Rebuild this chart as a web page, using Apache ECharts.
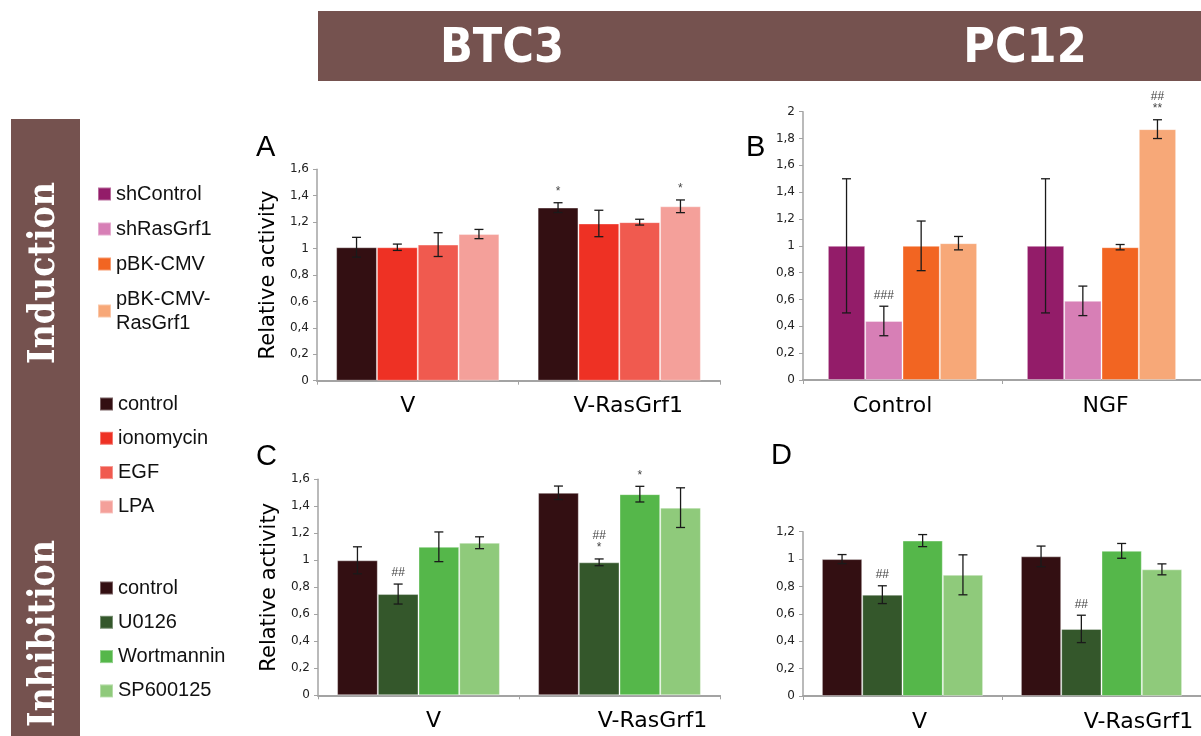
<!DOCTYPE html>
<html><head><meta charset="utf-8">
<script src="https://cdn.jsdelivr.net/npm/echarts@6/dist/echarts.min.js"></script>
<style>html,body{margin:0;padding:0;background:#fff}#c{width:1201px;height:736px}</style>
</head><body><div id="c"></div>
<script>
// ---------- data ----------
const catsBTC = ['V', 'V-RasGrf1'];
const catsPC = ['Control', 'NGF'];

const namesA = ['control', 'ionomycin', 'EGF', 'LPA'];
const namesB = ['shControl', 'shRasGrf1', 'pBK-CMV', 'pBK-CMV-RasGrf1'];
const namesCD = ['control', 'U0126', 'Wortmannin', 'SP600125'];

// values per series: [first category, second category]
const valA = [[1.01, 1.31], [1.01, 1.19], [1.03, 1.20], [1.11, 1.32]];
const errA = [[0.075, 0.037], [0.024, 0.10], [0.09, 0.022], [0.035, 0.048]];
const sigA = [['', '*'], ['', ''], ['', ''], ['', '*']];

const valB = [[1.0, 1.0], [0.44, 0.59], [1.0, 0.99], [1.02, 1.87]];
const errB = [[0.5, 0.5], [0.11, 0.11], [0.185, 0.02], [0.05, 0.07]];
const sigB = [['', ''], ['###', ''], ['', ''], ['', '##\n**']];

const valC = [[1.0, 1.50], [0.75, 0.985], [1.10, 1.49], [1.13, 1.39]];
const errC = [[0.10, 0.05], [0.074, 0.025], [0.11, 0.058], [0.044, 0.147]];
const sigC = [['', ''], ['##', '##\n*'], ['', '*'], ['', '']];

const valD = [[1.0, 1.02], [0.74, 0.49], [1.135, 1.06], [0.885, 0.925]];
const errD = [[0.033, 0.075], [0.065, 0.10], [0.044, 0.054], [0.146, 0.04]];
const sigD = [['', ''], ['##', '##'], ['', ''], ['', '']];

const yMaxes = [1.6, 2, 1.6, 1.2];
const yStep = 0.2;

const colA = ['#330f12', '#ee3124', '#f05a4f', '#f4a09a'];
const colB = ['#931c69', '#d77fb6', '#f26522', '#f7a878'];
const colCD = ['#330f12', '#34572b', '#55b74a', '#8fca7b'];

// ---------- layout ----------
const grids = [
  { left: 317, top: 169.3, width: 403, height: 211.4 },
  { left: 803, top: 111.7, width: 398, height: 268.3 },
  { left: 318, top: 479.3, width: 402, height: 216 },
  { left: 803, top: 531.7, width: 398, height: 164.3 }
];
const gaps = [0.19, 0.25, 0.19, 0.19];
const labelShift = [[-10, 9], [-10, 4], [15, 33], [17, 37]];

const panels = [
  { cats: catsBTC, names: namesA, val: valA, err: errA, sig: sigA, col: colA, yName: 'Relative activity' },
  { cats: catsPC, names: namesB, val: valB, err: errB, sig: sigB, col: colB, yName: '' },
  { cats: catsBTC, names: namesCD, val: valC, err: errC, sig: sigC, col: colCD, yName: 'Relative activity' },
  { cats: catsBTC, names: namesCD, val: valD, err: errD, sig: sigD, col: colCD, yName: '' }
];

const fmt = v => String(+v.toFixed(1)).replace('.', ',');
const axisGray = '#a3a3a3';

const xAxes = [], yAxes = [], series = [];
panels.forEach((p, pi) => {
  xAxes.push({
    gridIndex: pi, type: 'category',
    data: p.cats.map((c, ci) => {
      const s = labelShift[pi][ci];
      return { value: c, textStyle: { padding: s >= 0 ? [0, 0, 0, 2 * s] : [0, -2 * s, 0, 0] } };
    }),
    axisLine: { show: true, lineStyle: { color: axisGray, width: 2 } },
    axisTick: { show: true, length: 4, lineStyle: { color: axisGray } },
    axisLabel: { fontSize: 22, color: '#000', margin: 15, fontFamily: 'DejaVu Sans' },
    splitLine: { show: false }
  });
  yAxes.push({
    gridIndex: pi, type: 'value', min: 0, max: yMaxes[pi], interval: yStep,
    name: p.yName, nameLocation: 'middle', nameGap: 38,
    nameTextStyle: { fontSize: 21, color: '#000', fontFamily: 'DejaVu Sans' },
    axisLine: { show: true, lineStyle: { color: axisGray, width: 1.5 } },
    axisTick: { show: true, length: 4, lineStyle: { color: axisGray } },
    axisLabel: { fontSize: 12, color: '#222', margin: 8, fontFamily: 'DejaVu Sans', formatter: fmt },
    splitLine: { show: false }
  });
  p.names.forEach((n, si) => {
    series.push({
      type: 'bar', name: n, xAxisIndex: pi, yAxisIndex: pi,
      data: p.val[si],
      barGap: '0%', barCategoryGap: (gaps[pi] * 100) + '%',
      itemStyle: { color: p.col[si], borderColor: 'rgba(255,255,255,0.35)', borderWidth: 1 },
      emphasis: { disabled: true }
    });
  });
  // error bars + significance marks
  const data = [];
  p.names.forEach((n, si) => p.cats.forEach((c, ci) => data.push([ci, si, p.val[si][ci], p.err[si][ci]])));
  const gap = gaps[pi], nSer = p.names.length, sig = p.sig;
  series.push({
    type: 'custom', xAxisIndex: pi, yAxisIndex: pi, z: 10, silent: true,
    data: data,
    renderItem: function (params, api) {
      const ci = api.value(0), si = api.value(1), v = api.value(2), e = api.value(3);
      const center = api.coord([ci, 0]);
      const bandW = api.size([1, 0])[0];
      const groupW = bandW * (1 - gap);
      const bw = groupW / nSer;
      const x = center[0] - groupW / 2 + bw * (si + 0.5);
      const yT = api.coord([ci, v + e])[1];
      const yB = api.coord([ci, v - e])[1];
      const cap = 4.5;
      const st = { stroke: '#1a1a1a', lineWidth: 1.3 };
      const ch = [
        { type: 'line', shape: { x1: x, y1: yT, x2: x, y2: yB }, style: st },
        { type: 'line', shape: { x1: x - cap, y1: yT, x2: x + cap, y2: yT }, style: st },
        { type: 'line', shape: { x1: x - cap, y1: yB, x2: x + cap, y2: yB }, style: st }
      ];
      const s = sig[si][ci];
      if (s) {
        ch.push({ type: 'text', style: { text: s, x: x, y: yT - 5, align: 'center', verticalAlign: 'bottom',
          fontSize: 12, lineHeight: 12, fontFamily: 'Liberation Sans', fill: '#444' } });
      }
      return { type: 'group', children: ch };
    }
  });
});

const band = '#75524f';
const legendText = { fontSize: 20, color: '#111', fontFamily: 'Liberation Sans', lineHeight: 24 };
const option = {
  animation: false,
  backgroundColor: '#fff',
  grid: grids.map(g => Object.assign({ containLabel: false }, g)),
  xAxis: xAxes,
  yAxis: yAxes,
  series: series,
  legend: [
    { data: namesB, orient: 'vertical', left: 92, top: 177, itemWidth: 13, itemHeight: 13, itemGap: 11,
      icon: 'rect', selectedMode: false, textStyle: legendText,
      formatter: n => n === 'pBK-CMV-RasGrf1' ? 'pBK-CMV-\nRasGrf1' : n },
    { data: namesA, orient: 'vertical', left: 94, top: 387, itemWidth: 13, itemHeight: 13, itemGap: 10.3,
      icon: 'rect', selectedMode: false, textStyle: legendText },
    { data: namesCD, orient: 'vertical', left: 94, top: 571, itemWidth: 13, itemHeight: 13, itemGap: 10.3,
      icon: 'rect', selectedMode: false, textStyle: legendText }
  ],
  graphic: [
    { type: 'rect', shape: { x: 318, y: 11, width: 883, height: 70 }, style: { fill: band }, z: 0 },
    { type: 'text', x: 502, y: 50, style: { text: 'BTC3', fill: '#fff', font: 'bold 48px "DejaVu Sans Condensed", "DejaVu Sans"', align: 'center', verticalAlign: 'middle' } },
    { type: 'text', x: 1025, y: 50, style: { text: 'PC12', fill: '#fff', font: 'bold 48px "DejaVu Sans Condensed", "DejaVu Sans"', align: 'center', verticalAlign: 'middle' } },
    { type: 'rect', shape: { x: 11, y: 119, width: 69, height: 630 }, style: { fill: band }, z: 0 },
    { type: 'text', x: 44, y: 273, rotation: Math.PI / 2, style: { text: 'Induction', fill: '#fff', font: 'bold 37px "DejaVu Serif Condensed", "DejaVu Serif"', align: 'center', verticalAlign: 'middle' } },
    { type: 'text', x: 44, y: 540, rotation: Math.PI / 2, style: { text: 'Inhibition', fill: '#fff', font: 'bold 37px "DejaVu Serif Condensed", "DejaVu Serif"', align: 'right', verticalAlign: 'middle' } },
    { type: 'text', x: 256, y: 148, style: { text: 'A', fill: '#000', font: '29px "Liberation Sans"', align: 'left', verticalAlign: 'middle' } },
    { type: 'text', x: 746, y: 148, style: { text: 'B', fill: '#000', font: '29px "Liberation Sans"', align: 'left', verticalAlign: 'middle' } },
    { type: 'text', x: 256, y: 457, style: { text: 'C', fill: '#000', font: '29px "Liberation Sans"', align: 'left', verticalAlign: 'middle' } },
    { type: 'text', x: 771, y: 456, style: { text: 'D', fill: '#000', font: '29px "Liberation Sans"', align: 'left', verticalAlign: 'middle' } }
  ]
};
const chart = echarts.init(document.getElementById('c'), null, { renderer: 'canvas' });
chart.setOption(option);
</script>
</body></html>
